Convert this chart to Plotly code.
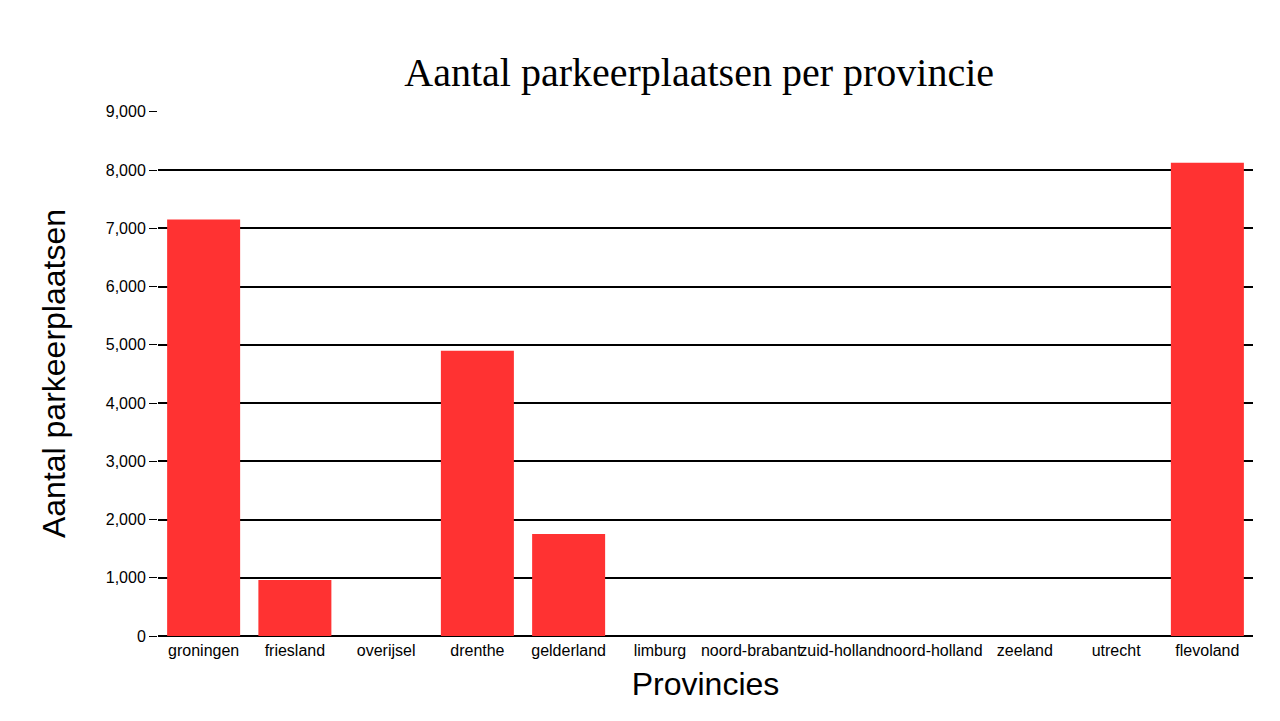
import plotly.graph_objects as go

provinces = ["groningen", "friesland", "overijsel", "drenthe", "gelderland", "limburg",
             "noord-brabant", "zuid-holland", "noord-holland", "zeeland", "utrecht", "flevoland"]
values = [7150, 960, 0, 4900, 1750, 0, 0, 0, 0, 0, 0, 8125]

fig = go.Figure(go.Bar(x=provinces, y=values, marker_color="rgb(255,50,50)", marker_line_width=0))
fig.update_layout(
    width=1280, height=721,
    paper_bgcolor="white", plot_bgcolor="white",
    margin=dict(l=150, r=35, t=103, b=93),
    title=dict(text="Aantal parkeerplaatsen per provincie", x=0.54, xanchor="center", y=0.93,
               font=dict(family="Liberation Serif", size=40, color="black")),
    bargap=0.2,
    font=dict(family="Liberation Sans", color="black"),
)
fig.update_xaxes(title=dict(text="Provincies", font=dict(size=32), standoff=14),
                 tickfont=dict(size=16), tickangle=0, automargin=False,
                 showline=True, linecolor="black", linewidth=1)
fig.update_yaxes(title=dict(text="Aantal parkeerplaatsen", font=dict(size=32), standoff=30),
                 range=[0, 9015], tickvals=list(range(0, 9001, 1000)), tickformat=",",
                 tickfont=dict(size=16), automargin=False,
                 gridcolor="black", gridwidth=1.5, zeroline=True, zerolinecolor="black",
                 ticks="outside", ticklen=8, tickcolor="black")
fig.write_html("out.html")
